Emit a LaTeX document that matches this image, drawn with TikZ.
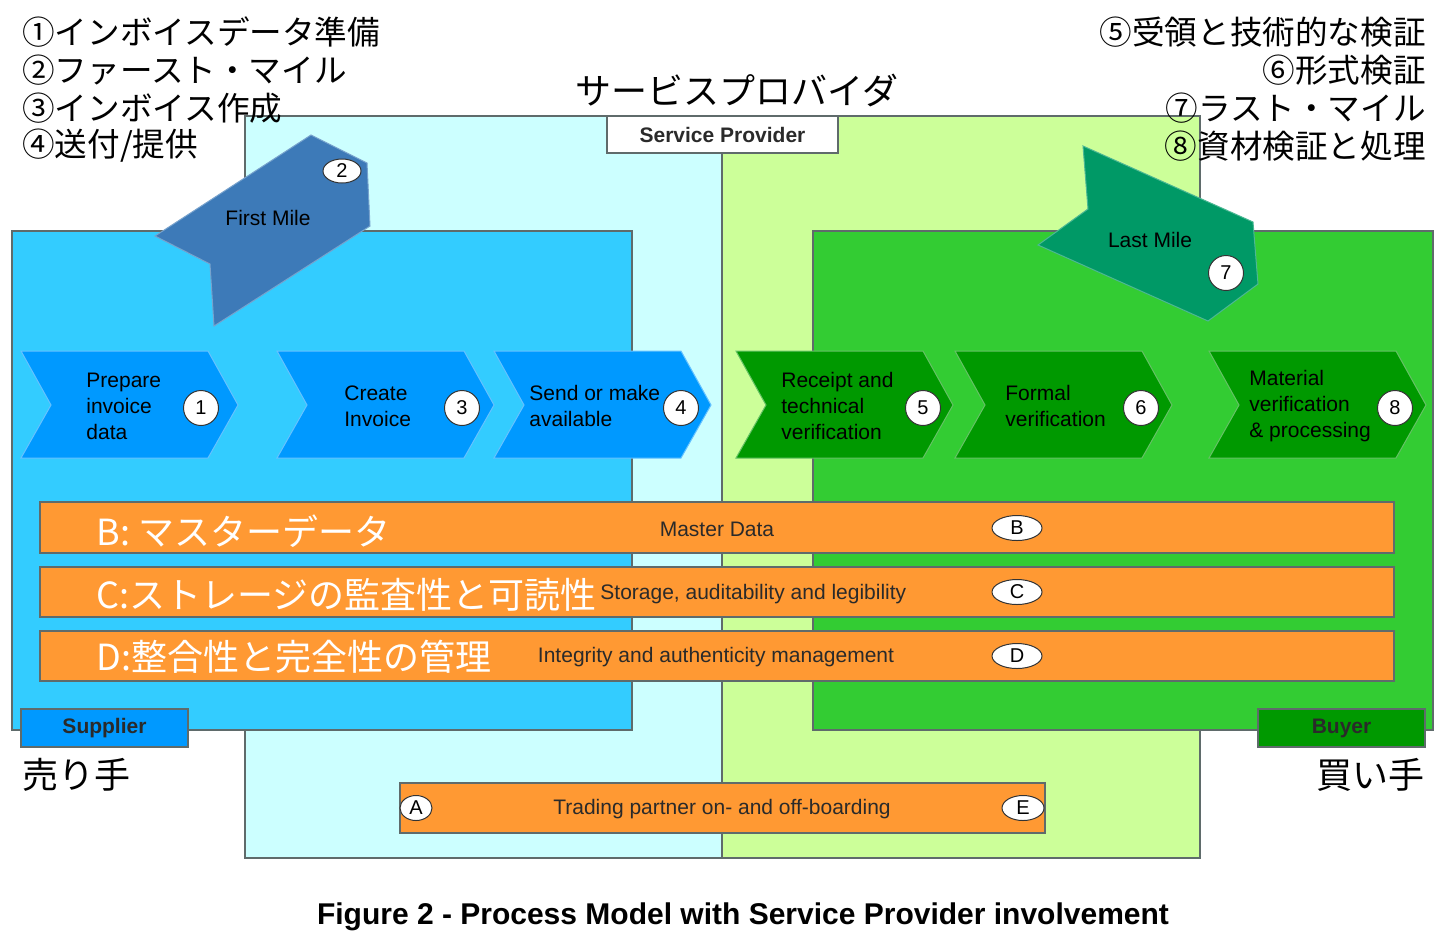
\documentclass[tikz,border=0pt]{standalone}
\usepackage{fontspec}
\setmainfont{Liberation Sans}
\newfontfamily\jp{Noto Sans CJK JP}
\usetikzlibrary{shapes.geometric}
\definecolor{bgcyan}{HTML}{CCFFFF}
\definecolor{bggreen}{HTML}{CCFF99}
\definecolor{supbox}{HTML}{33CCFF}
\definecolor{buybox}{HTML}{33CC33}
\definecolor{chevblue}{HTML}{0099FF}
\definecolor{chevgreen}{HTML}{009900}
\definecolor{firstmile}{RGB}{61,122,184}
\definecolor{lastmile}{HTML}{009966}
\definecolor{barorange}{HTML}{FF9933}
\definecolor{edge}{HTML}{5F6B6B}
\definecolor{darktext}{HTML}{2A2A2A}
\newcommand{\mychev}[3]{%
  \path[fill=#2, draw=#3, line width=0.5pt] (#1,351) -- ++(187,0) -- ++(30,54) -- ++(-30,53) -- ++(-187,0) -- ++(30,-53) -- cycle;}
\begin{document}
\begin{tikzpicture}[x=0.5pt,y=-0.5pt,
  area/.style={draw=edge, line width=0.6pt},
  chevtext/.style={anchor=west, align=left, inner sep=0pt, font=\fontsize{10.5}{13}\selectfont},
  badge/.style={circle, draw=black!80, fill=white, line width=0.5pt, minimum size=17.5pt, inner sep=0pt, font=\fontsize{10}{12}\selectfont},
  ebadge/.style={ellipse, draw=black!80, fill=white, line width=0.5pt, minimum width=25pt, minimum height=12.5pt, inner sep=0pt, font=\fontsize{10}{12}\selectfont},
  legend/.style={inner sep=0pt, font=\jp\fontsize{16.3}{19}\selectfont},
  bigjp/.style={inner sep=0pt, font=\jp\fontsize{18}{21}\selectfont},
  barjp/.style={anchor=west, inner sep=0pt, text=white, font=\jp\fontsize{18}{21}\selectfont},
  bartext/.style={inner sep=0pt, text=darktext, font=\fontsize{10.5}{13}\selectfont},
  bar/.style={draw=edge, fill=barorange, line width=0.6pt},
  tag/.style={draw=edge, line width=0.6pt, inner sep=0pt, minimum width=83.5pt, minimum height=19pt, text=darktext, font=\bfseries\fontsize{10.5}{13}\selectfont}
]
\useasboundingbox (0,0) rectangle (1450,934);
\fill[white] (0,0) rectangle (1450,934);

% service provider background
\path[area, fill=bgcyan] (245,116) rectangle (722,858);
\path[area, fill=bggreen] (722,116) rectangle (1200,858);

% supplier and buyer areas
\path[area, fill=supbox] (12,231) rectangle (632,730);
\path[area, fill=buybox] (813,231) rectangle (1433,730);

% service provider label
\node[tag, fill=white, minimum width=115.5pt, minimum height=18.5pt] (sp) at (722.5,134.5) {Service Provider};
\node[bigjp] (spjp) at (737,90) {サービスプロバイダ};

% first mile
\path[fill=firstmile, draw=firstmile!70!white, line width=0.5pt] (311,135) -- (367,163) -- (370,226) -- (214,326) -- (210,264) -- (155,236) -- cycle;
\node[bartext, text=black] (fm) at (268,218) {First Mile};
\node[ebadge, minimum width=19pt, minimum height=12pt] (b2) at (342,171) {2};

% last mile
\path[fill=lastmile, draw=lastmile!70!white, line width=0.5pt] (1083,146) -- (1253,222) -- (1258,284) -- (1208,321) -- (1038,245) -- (1088,209) -- cycle;
\node[bartext, text=black] (lm) at (1150,240) {Last Mile};
\node[badge] (b7) at (1226,273) {7};

% chevrons supplier
\mychev{21}{chevblue}{chevblue!60!white}
\mychev{277}{chevblue}{chevblue!60!white}
\mychev{494}{chevblue}{chevblue!60!white}
\node[chevtext] (t1) at (86,406) {Prepare\\invoice\\data};
\node[chevtext] (t3) at (344,406) {Create\\Invoice};
\node[chevtext] (t4) at (529,406) {Send or make\\available};
\node[badge] (c1) at (201,408) {1};
\node[badge] (c3) at (462,408) {3};
\node[badge] (c4) at (681,408) {4};

% chevrons buyer
\mychev{736}{chevgreen}{chevgreen!60!white}
\mychev{955}{chevgreen}{chevgreen!60!white}
\mychev{1209}{chevgreen}{chevgreen!60!white}
\node[chevtext] (t5) at (781,406) {Receipt and\\technical\\verification};
\node[chevtext] (t6) at (1005,406) {Formal\\verification};
\node[chevtext] (t8) at (1249,406) {Material\\verification\\\& processing};
\node[badge] (c5) at (923,408) {5};
\node[badge] (c6) at (1141,408) {6};
\node[badge] (c8) at (1395,408) {8};

% bars
\path[bar] (40,502) rectangle (1394,553);
\path[bar] (40,567) rectangle (1394,617);
\path[bar] (40,631) rectangle (1394,681);
\node[barjp] (bjp) at (96,531) {B: マスターデータ};
\node[barjp] (cjp) at (96,595) {C:ストレージの監査性と可読性};
\node[barjp] (djp) at (96,657) {D:整合性と完全性の管理};
\node[bartext] (bt) at (717,529) {Master Data};
\node[bartext, anchor=west] (ct) at (600,594) {Storage, auditability and legibility};
\node[bartext] (dt) at (716,657) {Integrity and authenticity management};
\node[ebadge] (eb) at (1017,528) {B};
\node[ebadge] (ec) at (1017,592) {C};
\node[ebadge] (ed) at (1017,656) {D};

% trading partner bar
\path[bar] (400,783) rectangle (1045,833);
\node[bartext] (at) at (722,809) {Trading partner on- and off-boarding};
\node[ebadge, minimum width=16pt] (ea) at (416,808) {A};
\node[ebadge, minimum width=21pt] (ee) at (1023,808) {E};

% supplier / buyer tags
\node[tag, fill=chevblue] (sup) at (104.5,728) {Supplier};
\node[tag, fill=chevgreen] (buy) at (1341.5,728) {Buyer};
\node[bigjp, anchor=west] (supjp) at (22,775) {売り手};
\node[bigjp, anchor=east] (buyjp) at (1425,775) {買い手};

% legends
\node[legend, anchor=west] (l1) at (22,32) {①インボイスデータ準備};
\node[legend, anchor=west] (l2) at (22,70) {②ファースト・マイル};
\node[legend, anchor=west] (l3) at (22,108) {③インボイス作成};
\node[legend, anchor=west] (l4) at (22,146) {④送付/提供};
\node[legend, anchor=east] (l5) at (1426,32) {⑤受領と技術的な検証};
\node[legend, anchor=east] (l6) at (1426,70) {⑥形式検証};
\node[legend, anchor=east] (l7) at (1426,108) {⑦ラスト・マイル};
\node[legend, anchor=east] (l8) at (1426,146) {⑧資材検証と処理};

% caption
\node[inner sep=0pt, font=\bfseries\fontsize{15}{18}\selectfont] (cap) at (743,917) {Figure 2 - Process Model with Service Provider involvement};
\end{tikzpicture}
\end{document}
